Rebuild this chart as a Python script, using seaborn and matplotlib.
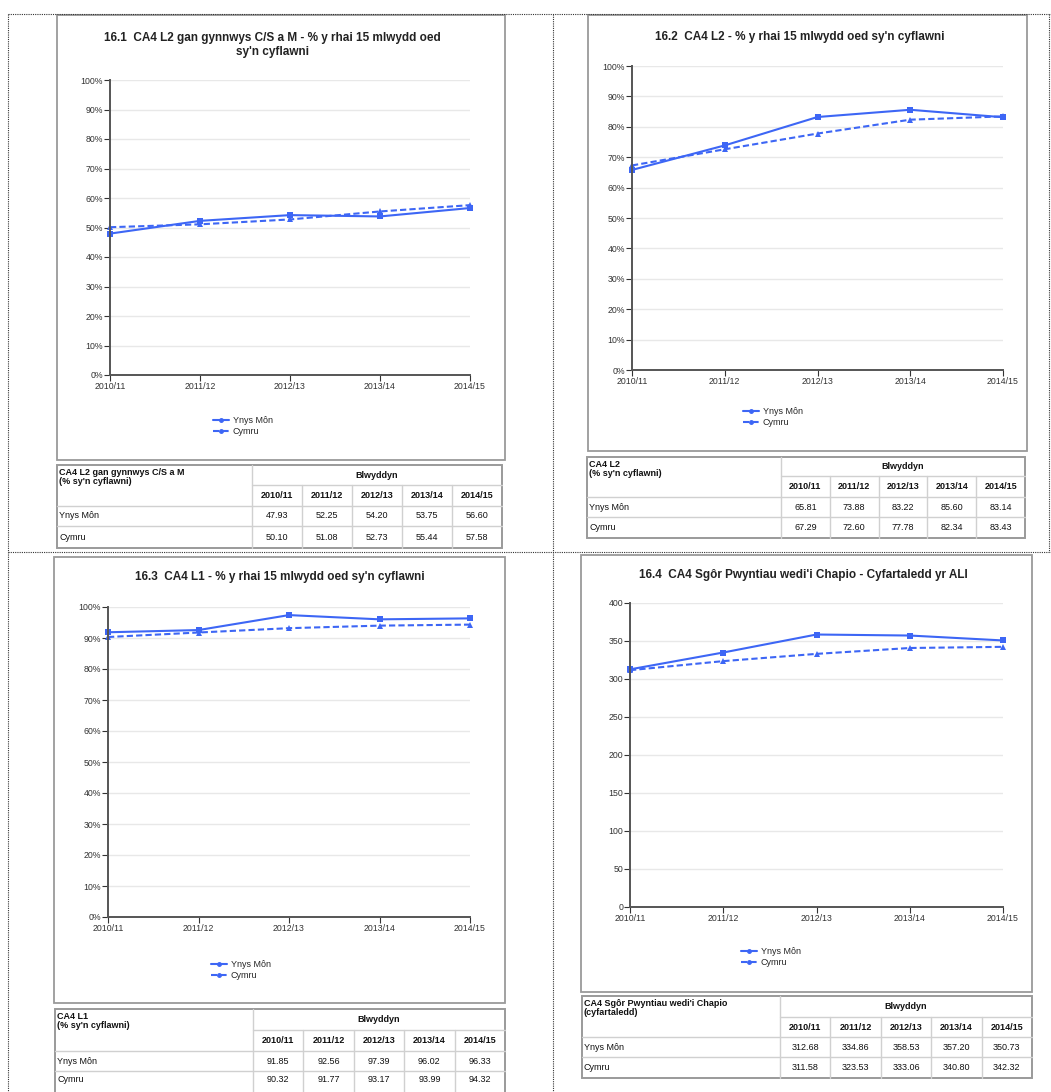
import matplotlib
matplotlib.use("Agg")
import matplotlib.pyplot as plt
import matplotlib.ticker as ticker
from matplotlib.lines import Line2D
from matplotlib.patches import Rectangle
import seaborn as sns
import pandas as pd

years = ['2010/11', '2011/12', '2012/13', '2013/14', '2014/15']
series_names = ['Ynys Môn', 'Cymru']

# 16.1 CA4 L2 incl. Welsh/English and Maths
l2_cym_ynys = [47.93, 52.25, 54.20, 53.75, 56.60]
l2_cym_cymru = [50.10, 51.08, 52.73, 55.44, 57.58]
# 16.2 CA4 L2
l2_ynys = [65.81, 73.88, 83.22, 85.60, 83.14]
l2_cymru = [67.29, 72.60, 77.78, 82.34, 83.43]
# 16.3 CA4 L1
l1_ynys = [91.85, 92.56, 97.39, 96.02, 96.33]
l1_cymru = [90.32, 91.77, 93.17, 93.99, 94.32]
# 16.4 capped points score
score_ynys = [312.68, 334.86, 358.53, 357.20, 350.73]
score_cymru = [311.58, 323.53, 333.06, 340.80, 342.32]

titles = [
    "16.1  CA4 L2 gan gynnwys C/S a M - % y rhai 15 mlwydd oed\nsy'n cyflawni",
    "16.2  CA4 L2 - % y rhai 15 mlwydd oed sy'n cyflawni",
    "16.3  CA4 L1 - % y rhai 15 mlwydd oed sy'n cyflawni",
    "16.4  CA4 Sgôr Pwyntiau wedi'i Chapio - Cyfartaledd yr ALI",
]
table_labels = [
    "CA4 L2 gan gynnwys C/S a M\n(% sy'n cyflawni)",
    "CA4 L2\n(% sy'n cyflawni)",
    "CA4 L1\n(% sy'n cyflawni)",
    "CA4 Sgôr Pwyntiau wedi'i Chapio\n(cyfartaledd)",
]

W, H = 1051, 1092
BLUE = '#3d66f5'

sns.set_theme(style="white")
plt.rcParams['font.family'] = ['Liberation Sans', 'DejaVu Sans']

fig = plt.figure(figsize=(W / 100, H / 100), dpi=100)

# background axes in pixel coordinates for frames, boxes and tables
bg = fig.add_axes([0, 0, 1, 1])
bg.set_xlim(0, W)
bg.set_ylim(H, 0)
bg.axis('off')

# dotted page frame
dot = dict(color='#333333', lw=0.8, ls=(0, (1, 1)))
bg.plot([8, 1051], [14, 14], **dot)
bg.plot([8, 8], [14, 1092], **dot)
bg.plot([553, 553], [14, 1092], **dot)
bg.plot([8, 1051], [552, 552], **dot)
bg.plot([1049, 1049], [14, 552], **dot)

panels = [
    dict(ynys=l2_cym_ynys, cymru=l2_cym_cymru, box=(57, 15, 505, 460),
         ax=(110, 80, 470, 375), title_xy=(272, 45), leg=(213, 416),
         table=(57, 502, 465, 548, 252, (485, 506, 526)), pct=True),
    dict(ynys=l2_ynys, cymru=l2_cymru, box=(588, 15, 1027, 451),
         ax=(632, 66, 1003, 370), title_xy=(800, 37), leg=(743, 407),
         table=(587, 1025, 457, 538, 781, (476, 497, 517)), pct=True),
    dict(ynys=l1_ynys, cymru=l1_cymru, box=(54, 557, 505, 1003),
         ax=(108, 607, 470, 917), title_xy=(280, 577), leg=(211, 960),
         table=(55, 505, 1009, 1093, 253, (1030, 1051, 1071)), pct=True),
    dict(ynys=score_ynys, cymru=score_cymru, box=(581, 555, 1032, 992),
         ax=(630, 603, 1003, 907), title_xy=(803, 575), leg=(741, 947),
         table=(582, 1032, 996, 1078, 780, (1017, 1037, 1057)), pct=False),
]

for i, p in enumerate(panels):
    # chart box
    x0, y0, x1, y1 = p['box']
    bg.add_patch(Rectangle((x0, y0), x1 - x0, y1 - y0, fill=False,
                           ec='#9a9a9a', lw=1.3))
    bg.text(p['title_xy'][0], p['title_xy'][1], titles[i], ha='center',
            va='center', fontsize=8.5, fontweight='bold', color='#222222',
            linespacing=1.25)

    # chart
    l, t, r, b = p['ax']
    ax = fig.add_axes([l / W, 1 - b / H, (r - l) / W, (b - t) / H])
    df = pd.DataFrame({
        'year': years * 2,
        'value': p['ynys'] + p['cymru'],
        'series': [series_names[0]] * 5 + [series_names[1]] * 5,
    })
    sns.lineplot(data=df, x='year', y='value', hue='series', style='series',
                 palette=[BLUE, BLUE],
                 dashes={'Ynys Môn': '', 'Cymru': (3, 1.5)},
                 markers={'Ynys Môn': 's', 'Cymru': '^'},
                 markersize=5, markeredgewidth=0, linewidth=1.5,
                 ax=ax, clip_on=False, legend=False)
    ax.set_xlim(0, 4)
    if p['pct']:
        ax.set_ylim(0, 100)
        ax.yaxis.set_major_locator(ticker.MultipleLocator(10))
        ax.yaxis.set_major_formatter(ticker.FuncFormatter(lambda v, pos: f"{v:.0f}%"))
    else:
        ax.set_ylim(0, 400)
        ax.yaxis.set_major_locator(ticker.MultipleLocator(50))
    ax.set_xlabel('')
    ax.set_ylabel('')
    ax.grid(axis='y', color='#e8e8e8', lw=1)
    ax.set_axisbelow(True)
    sns.despine(ax=ax)
    for s in ('left', 'bottom'):
        ax.spines[s].set_color('#555555')
        ax.spines[s].set_linewidth(1.4)
    ax.tick_params(axis='both', labelsize=6.3, colors='#333333', length=4,
                   width=0.8, pad=1, left=True, bottom=True)

    # legend
    handles = [
        Line2D([], [], color=BLUE, lw=1.5, marker='o', markersize=2.5),
        Line2D([], [], color=BLUE, lw=1.5, ls=(0, (3, 1.5)), marker='o', markersize=2.5),
    ]
    lx, ly = p['leg']
    ax.legend(handles, series_names, loc='upper left',
              bbox_to_anchor=(lx / W, 1 - ly / H), bbox_transform=fig.transFigure,
              frameon=False, fontsize=6.5, handlelength=1.8, handletextpad=0.4,
              labelspacing=0.25, borderpad=0, borderaxespad=0)

    # data table
    tl, tr, tt, tb, split, rows = p['table']
    bg.add_patch(Rectangle((tl, tt), tr - tl, tb - tt, fill=False,
                           ec='#9a9a9a', lw=1.4, clip_on=False))
    inner = dict(color='#d0d0d0', lw=1.0)
    bg.plot([split, split], [tt, tb], **inner)
    bg.plot([split, tr], [rows[0], rows[0]], **inner)
    bg.plot([tl, tr], [rows[1], rows[1]], **inner)
    bg.plot([tl, tr], [rows[2], rows[2]], **inner)
    cw = (tr - split) / len(years)
    for k in range(1, len(years)):
        bg.plot([split + k * cw] * 2, [rows[0], tb], **inner)
    bg.text(tl + 2, tt + 3, table_labels[i], ha='left', va='top', fontsize=6.5,
            fontweight='bold', color='#111111', linespacing=0.95)
    bg.text((split + tr) / 2, (tt + rows[0]) / 2, 'Blwyddyn', ha='center',
            va='center', fontsize=6.5, fontweight='bold', color='#111111')
    for k, yr in enumerate(years):
        cx = split + (k + 0.5) * cw
        bg.text(cx, (rows[0] + rows[1]) / 2, yr, ha='center', va='center',
                fontsize=6.5, fontweight='bold', color='#111111')
        bg.text(cx, (rows[1] + rows[2]) / 2, f"{p['ynys'][k]:.2f}", ha='center',
                va='center', fontsize=6.5, color='#111111')
        bg.text(cx, (rows[2] + tb) / 2 - (3 if tb > 1085 else 0), f"{p['cymru'][k]:.2f}",
                ha='center', va='center', fontsize=6.5, color='#111111')
    bg.text(tl + 2, (rows[1] + rows[2]) / 2, series_names[0], ha='left',
            va='center', fontsize=6.5, color='#111111')
    bg.text(tl + 2, (rows[2] + tb) / 2 - (3 if tb > 1085 else 0), series_names[1],
            ha='left', va='center', fontsize=6.5, color='#111111')

plt.savefig('out.png', dpi=100)
plt.close(fig)
